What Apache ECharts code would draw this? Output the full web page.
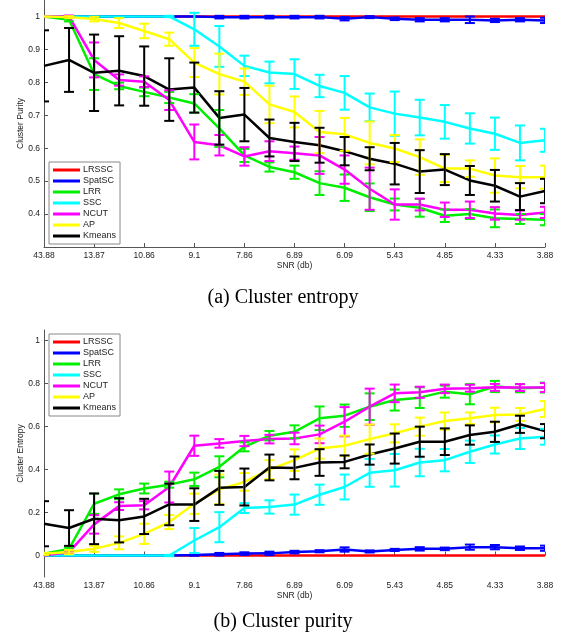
<!DOCTYPE html>
<html>
<head>
<meta charset="utf-8">
<script src="https://cdn.jsdelivr.net/npm/echarts@6/dist/echarts.min.js"></script>
<style>
html, body { margin: 0; padding: 0; background: #fff; }
#main { width: 566px; height: 635px; }
</style>
</head>
<body>
<div id="main"></div>
<script>
var snrLabels = ['43.88', '', '13.87', '', '10.86', '', '9.1', '', '7.86', '', '6.89', '', '6.09', '', '5.43', '', '4.85', '', '4.33', '', '3.88'];
var methods = ['LRSSC', 'SpatSC', 'LRR', 'SSC', 'NCUT', 'AP', 'Kmeans'];
var colors = ['#ff0000', '#0000ff', '#00ee00', '#00ffff', '#ff00ff', '#ffff00', '#000000'];

// panel (a): means
var aLRSSC = [1, 1, 1, 1, 1, 1, 1, 1, 1, 1, 1, 1, 1, 1, 1, 1, 1, 1, 1, 1, 1];
var aSpatSC = [1, 1, 1, 1, 1, 1, 1, 0.998, 0.998, 0.998, 0.998, 0.998, 0.993, 0.998, 0.993, 0.99, 0.99, 0.99, 0.988, 0.99, 0.988];
var aLRR = [1, 0.99, 0.825, 0.789, 0.771, 0.754, 0.736, 0.66, 0.578, 0.543, 0.527, 0.494, 0.48, 0.451, 0.429, 0.419, 0.395, 0.4, 0.387, 0.385, 0.383];
var aSSC = [1, 1, 1, 1, 1, 1, 0.961, 0.909, 0.85, 0.83, 0.825, 0.789, 0.768, 0.724, 0.705, 0.693, 0.68, 0.66, 0.644, 0.616, 0.624];
var aNCUT = [1, 1, 0.868, 0.807, 0.802, 0.746, 0.619, 0.609, 0.575, 0.591, 0.585, 0.578, 0.535, 0.477, 0.429, 0.429, 0.413, 0.413, 0.402, 0.397, 0.405];
var aAP = [1, 0.998, 0.992, 0.98, 0.956, 0.931, 0.86, 0.825, 0.802, 0.733, 0.71, 0.649, 0.642, 0.616, 0.599, 0.573, 0.538, 0.538, 0.517, 0.512, 0.512];
var aKmeans = [0.85, 0.868, 0.829, 0.835, 0.819, 0.778, 0.784, 0.692, 0.702, 0.631, 0.619, 0.609, 0.591, 0.568, 0.553, 0.529, 0.535, 0.502, 0.486, 0.453, 0.47];
// panel (a): error half-widths
var aLRSSCErr = [0, 0, 0, 0, 0, 0, 0, 0, 0, 0, 0, 0, 0, 0, 0, 0, 0, 0, 0, 0, 0];
var aSpatSCErr = [0, 0, 0, 0, 0, 0, 0, 0.004, 0.004, 0.004, 0.004, 0.004, 0.005, 0.003, 0.004, 0.005, 0.005, 0.01, 0.005, 0.005, 0.008];
var aLRRErr = [0, 0.005, 0.048, 0.01, 0.013, 0.017, 0.028, 0.056, 0.02, 0.014, 0.02, 0.036, 0.04, 0.042, 0.018, 0.027, 0.019, 0.015, 0.027, 0.015, 0.017];
var aSSCErr = [0, 0, 0, 0, 0, 0.002, 0.05, 0.062, 0.031, 0.033, 0.045, 0.034, 0.051, 0.042, 0.067, 0.054, 0.051, 0.046, 0.049, 0.053, 0.035];
var aNCUTErr = [0, 0.003, 0.053, 0.017, 0.016, 0.03, 0.053, 0.031, 0.028, 0.03, 0.02, 0.056, 0.043, 0.064, 0.046, 0.018, 0.022, 0.025, 0.019, 0.014, 0.017];
var aAPErr = [0, 0.003, 0.007, 0.015, 0.022, 0.02, 0.044, 0.062, 0.04, 0.057, 0.047, 0.064, 0.05, 0.065, 0.041, 0.054, 0.041, 0.025, 0.052, 0.034, 0.035];
var aKmeansErr = [0.108, 0.097, 0.116, 0.105, 0.09, 0.095, 0.076, 0.081, 0.081, 0.056, 0.058, 0.053, 0.043, 0.035, 0.063, 0.065, 0.047, 0.044, 0.048, 0.041, 0.037];

// panel (b): means
var bLRSSC = [0, 0, 0, 0, 0, 0, 0, 0, 0, 0, 0, 0, 0, 0, 0, 0, 0, 0, 0, 0, 0];
var bSpatSC = [0, 0, 0, 0, 0, 0, 0.002, 0.006, 0.009, 0.01, 0.016, 0.02, 0.028, 0.019, 0.026, 0.031, 0.031, 0.039, 0.039, 0.034, 0.034];
var bLRR = [0.008, 0.031, 0.241, 0.285, 0.312, 0.33, 0.355, 0.413, 0.506, 0.558, 0.576, 0.639, 0.651, 0.693, 0.724, 0.735, 0.763, 0.751, 0.787, 0.779, 0.782];
var bSSC = [0, 0, 0, 0, 0, 0, 0.07, 0.132, 0.221, 0.226, 0.237, 0.283, 0.319, 0.385, 0.397, 0.433, 0.444, 0.483, 0.517, 0.545, 0.553];
var bNCUT = [0, 0.016, 0.145, 0.23, 0.234, 0.319, 0.511, 0.522, 0.533, 0.542, 0.545, 0.564, 0.623, 0.693, 0.755, 0.76, 0.776, 0.779, 0.783, 0.782, 0.782];
var bAP = [0.008, 0.016, 0.031, 0.059, 0.101, 0.156, 0.241, 0.308, 0.343, 0.4, 0.444, 0.498, 0.511, 0.542, 0.569, 0.6, 0.626, 0.639, 0.654, 0.657, 0.682];
var bKmeans = [0.148, 0.128, 0.171, 0.164, 0.182, 0.238, 0.237, 0.315, 0.319, 0.41, 0.408, 0.433, 0.436, 0.47, 0.498, 0.53, 0.53, 0.561, 0.576, 0.611, 0.579];
// panel (b): error half-widths
var bLRSSCErr = [0, 0, 0, 0, 0, 0, 0, 0, 0, 0, 0, 0, 0, 0, 0, 0, 0, 0, 0, 0, 0];
var bSpatSCErr = [0, 0, 0, 0, 0, 0, 0.003, 0.006, 0.006, 0.008, 0.006, 0.005, 0.01, 0.005, 0.005, 0.008, 0.006, 0.012, 0.01, 0.008, 0.012];
var bLRRErr = [0.003, 0.006, 0.047, 0.023, 0.023, 0.014, 0.031, 0.049, 0.021, 0.022, 0.03, 0.055, 0.052, 0.062, 0.049, 0.048, 0.028, 0.047, 0.026, 0.019, 0.023];
var bSSCErr = [0, 0, 0, 0, 0, 0.003, 0.058, 0.07, 0.023, 0.031, 0.047, 0.047, 0.058, 0.065, 0.076, 0.064, 0.052, 0.052, 0.042, 0.049, 0.037];
var bNCUTErr = [0, 0.008, 0.043, 0.018, 0.019, 0.072, 0.047, 0.02, 0.024, 0.02, 0.027, 0.041, 0.068, 0.084, 0.041, 0.026, 0.02, 0.016, 0.016, 0.016, 0.021];
var bAPErr = [0.005, 0.01, 0.014, 0.03, 0.047, 0.033, 0.047, 0.069, 0.041, 0.044, 0.05, 0.047, 0.047, 0.068, 0.042, 0.042, 0.04, 0.027, 0.034, 0.03, 0.037];
var bKmeansErr = [0.105, 0.083, 0.118, 0.103, 0.082, 0.097, 0.076, 0.079, 0.086, 0.06, 0.053, 0.062, 0.03, 0.047, 0.07, 0.07, 0.062, 0.045, 0.047, 0.04, 0.033];

var aTicks = [0.4, 0.5, 0.6, 0.7, 0.8, 0.9, 1];
var bTicks = [0, 0.2, 0.4, 0.6, 0.8, 1];

var panelA = [aLRSSC, aSpatSC, aLRR, aSSC, aNCUT, aAP, aKmeans];
var panelAErr = [aLRSSCErr, aSpatSCErr, aLRRErr, aSSCErr, aNCUTErr, aAPErr, aKmeansErr];
var panelB = [bLRSSC, bSpatSC, bLRR, bSSC, bNCUT, bAP, bKmeans];
var panelBErr = [bLRSSCErr, bSpatSCErr, bLRRErr, bSSCErr, bNCUTErr, bAPErr, bKmeansErr];

var font = 'Liberation Sans, Arial, sans-serif';
var axisColor = '#555';

function errorBars(name, color, means, errs, gi) {
    var data = means.map(function (m, i) {
        return [i, m - errs[i], m + errs[i]];
    }).filter(function (d) { return d[2] - d[1] > 0; });
    return {
        type: 'custom',
        name: name,
        xAxisIndex: gi,
        yAxisIndex: gi,
        clip: true,
        z: 3,
        renderItem: function (params, api) {
            var lo = api.coord([api.value(0), api.value(1)]);
            var hi = api.coord([api.value(0), api.value(2)]);
            var w = 5;
            var st = { stroke: color, lineWidth: 2, fill: null };
            return {
                type: 'group',
                children: [
                    { type: 'line', shape: { x1: lo[0], y1: lo[1], x2: hi[0], y2: hi[1] }, style: st },
                    { type: 'line', shape: { x1: lo[0] - w, y1: lo[1], x2: lo[0] + w, y2: lo[1] }, style: st },
                    { type: 'line', shape: { x1: hi[0] - w, y1: hi[1], x2: hi[0] + w, y2: hi[1] }, style: st }
                ]
            };
        },
        data: data
    };
}

var series = [];
[panelA, panelB].forEach(function (panel, gi) {
    var errs = gi === 0 ? panelAErr : panelBErr;
    methods.forEach(function (name, k) {
        series.push({
            type: 'line',
            name: name,
            xAxisIndex: gi,
            yAxisIndex: gi,
            data: panel[k],
            symbol: 'none',
            color: colors[k],
            lineStyle: { width: 2.5, color: colors[k] },
            z: 2
        });
        series.push(errorBars(name, colors[k], panel[k], errs[k], gi));
    });
});

function xAxis(gi) {
    return {
        type: 'category',
        gridIndex: gi,
        data: snrLabels,
        boundaryGap: false,
        name: 'SNR (db)',
        nameLocation: 'middle',
        nameGap: 14.5,
        nameMoveOverlap: false,
        nameTextStyle: { fontFamily: font, fontSize: 8.5, color: '#222' },
        axisLine: { lineStyle: { color: axisColor, width: 1 } },
        axisTick: { inside: true, length: 4, interval: 1, lineStyle: { color: axisColor } },
        axisLabel: { interval: 1, fontFamily: font, fontSize: 8.5, color: '#222', margin: 4 },
        splitLine: { show: false }
    };
}

function yAxis(gi, name, min, max, ticks) {
    return {
        type: 'value',
        gridIndex: gi,
        min: min,
        max: max,
        name: name,
        nameLocation: 'middle',
        nameGap: 19,
        nameMoveOverlap: false,
        nameTextStyle: { fontFamily: font, fontSize: 8.5, color: '#222' },
        axisLine: { show: true, lineStyle: { color: axisColor, width: 1 } },
        axisTick: { show: true, inside: true, length: 4, customValues: ticks, lineStyle: { color: axisColor } },
        axisLabel: {
            customValues: ticks, fontFamily: font, fontSize: 8.5, color: '#222', margin: 4,
            formatter: function (v) { return String(Math.round(v * 10) / 10); }
        },
        splitLine: { show: false }
    };
}

function legend(top) {
    return {
        data: methods.map(function (m) { return { name: m, icon: 'rect' }; }),
        orient: 'vertical',
        left: 49,
        top: top,
        itemWidth: 27,
        itemHeight: 3,
        itemGap: 1,
        padding: [3, 4, 3, 4],
        borderColor: '#888',
        borderWidth: 1,
        backgroundColor: '#fff',
        selectedMode: false,
        textStyle: { fontFamily: font, fontSize: 9, color: '#222', lineHeight: 10, padding: [0, 0, 0, -2] }
    };
}

var myChart = echarts.init(document.getElementById('main'));
myChart.setOption({
    animation: false,
    backgroundColor: '#fff',
    grid: [
        { left: 44, right: 21, top: 0, height: 247 },
        { left: 44, right: 21, top: 330, height: 247 }
    ],
    xAxis: [xAxis(0), xAxis(1)],
    yAxis: [
        yAxis(0, 'Cluster Purity', 0.3, 1.05, aTicks),
        yAxis(1, 'Cluster Entropy', -0.1, 1.05, bTicks)
    ],
    legend: [legend(162), legend(334)],
    graphic: [
        { type: 'text', left: 'center', top: 288, style: { text: '(a) Cluster entropy', font: '20px "Liberation Serif", "Times New Roman", serif', fill: '#000' } },
        { type: 'text', left: 'center', top: 612, style: { text: '(b) Cluster purity', font: '20px "Liberation Serif", "Times New Roman", serif', fill: '#000' } }
    ],
    series: series
});
</script>
</body>
</html>
